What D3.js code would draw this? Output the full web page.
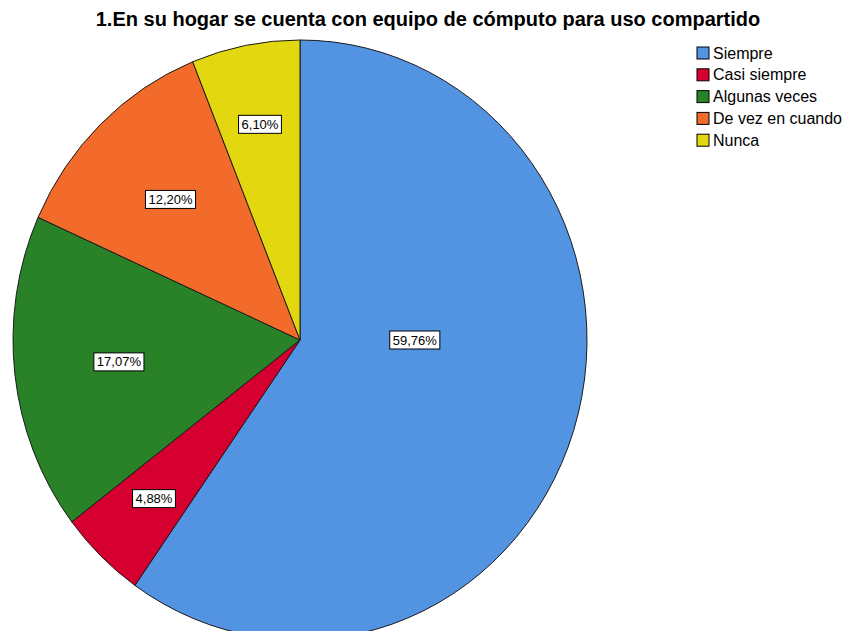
<!DOCTYPE html>
<html>
<head>
<meta charset="utf-8">
<script src="https://cdn.jsdelivr.net/npm/d3@7"></script>
<style>
  body { margin: 0; background: #fff; }
  svg { display: block; font-family: "Liberation Sans", Arial, sans-serif; }
</style>
</head>
<body>
<script>
// Data
const categories = ['Siempre', 'Casi siempre', 'Algunas veces', 'De vez en cuando', 'Nunca'];
const percents = [59.76, 4.88, 17.07, 12.20, 6.10];
const colors = ['#5294e2', '#d5002f', '#2a8228', '#f26b2b', '#e3d70f'];
const title = '1.En su hogar se cuenta con equipo de cómputo para uso compartido';

// Constants
const width = 846;
const height = 631;
const cx = 300, cy = 340;
const rx = 287, ry = 300;

const svg = d3.select('body').append('svg')
  .attr('width', width)
  .attr('height', height);

// Title
svg.append('text')
  .attr('x', 428)
  .attr('y', 26)
  .attr('text-anchor', 'middle')
  .attr('font-size', 20)
  .attr('font-weight', 'bold')
  .text(title);

// Pie
const data = categories.map((c, i) => ({ name: c, value: percents[i], color: colors[i] }));
const pie = d3.pie().value(d => d.value).sort(null);
const arcs = pie(data);
const arc = d3.arc().innerRadius(0).outerRadius(rx);

const g = svg.append('g')
  .attr('transform', `translate(${cx},${cy}) scale(1,${ry / rx})`);

g.selectAll('path')
  .data(arcs)
  .join('path')
  .attr('d', arc)
  .attr('fill', d => d.data.color)
  .attr('stroke', '#1a1a1a')
  .attr('stroke-width', 1)
  .attr('vector-effect', 'non-scaling-stroke');

// Labels near the sector centroid
const fmt = v => v.toFixed(2).replace('.', ',') + '%';
const labels = svg.append('g').attr('transform', `translate(${cx},${cy})`);
arcs.forEach(d => {
  const half = (d.endAngle - d.startAngle) / 2;
  const mid = half > 1.5 ? Math.PI / 2 : d.startAngle + half;
  const dist = half > 1.5 ? rx * 0.4 : 2 * rx * Math.sin(half) / (3 * half) + (half < 0.2 ? 20 : 0);
  const x = Math.sin(mid) * dist;
  const y = -Math.cos(mid) * dist * ry / rx;
  const lg = labels.append('g').attr('transform', `translate(${x},${y})`);
  const t = lg.append('text')
    .attr('text-anchor', 'middle')
    .attr('dy', '0.35em')
    .attr('font-size', 13)
    .text(fmt(d.data.value));
  const w = t.node().getComputedTextLength();
  lg.insert('rect', 'text')
    .attr('x', -w / 2 - 3)
    .attr('y', -9)
    .attr('width', w + 6)
    .attr('height', 18)
    .attr('fill', '#fff')
    .attr('stroke', '#000')
    .attr('stroke-width', 1);
});

// Legend
const legend = svg.append('g').attr('transform', 'translate(697,47)');
const rowH = 21.8;
const item = legend.selectAll('g')
  .data(data)
  .join('g')
  .attr('transform', (d, i) => `translate(0,${i * rowH})`);
item.append('rect')
  .attr('width', 12)
  .attr('height', 12)
  .attr('fill', d => d.color)
  .attr('stroke', '#000')
  .attr('stroke-width', 1);
item.append('text')
  .attr('x', 16)
  .attr('y', 6)
  .attr('dy', '0.35em')
  .attr('font-size', 16)
  .text(d => d.name);
</script>
</body>
</html>
